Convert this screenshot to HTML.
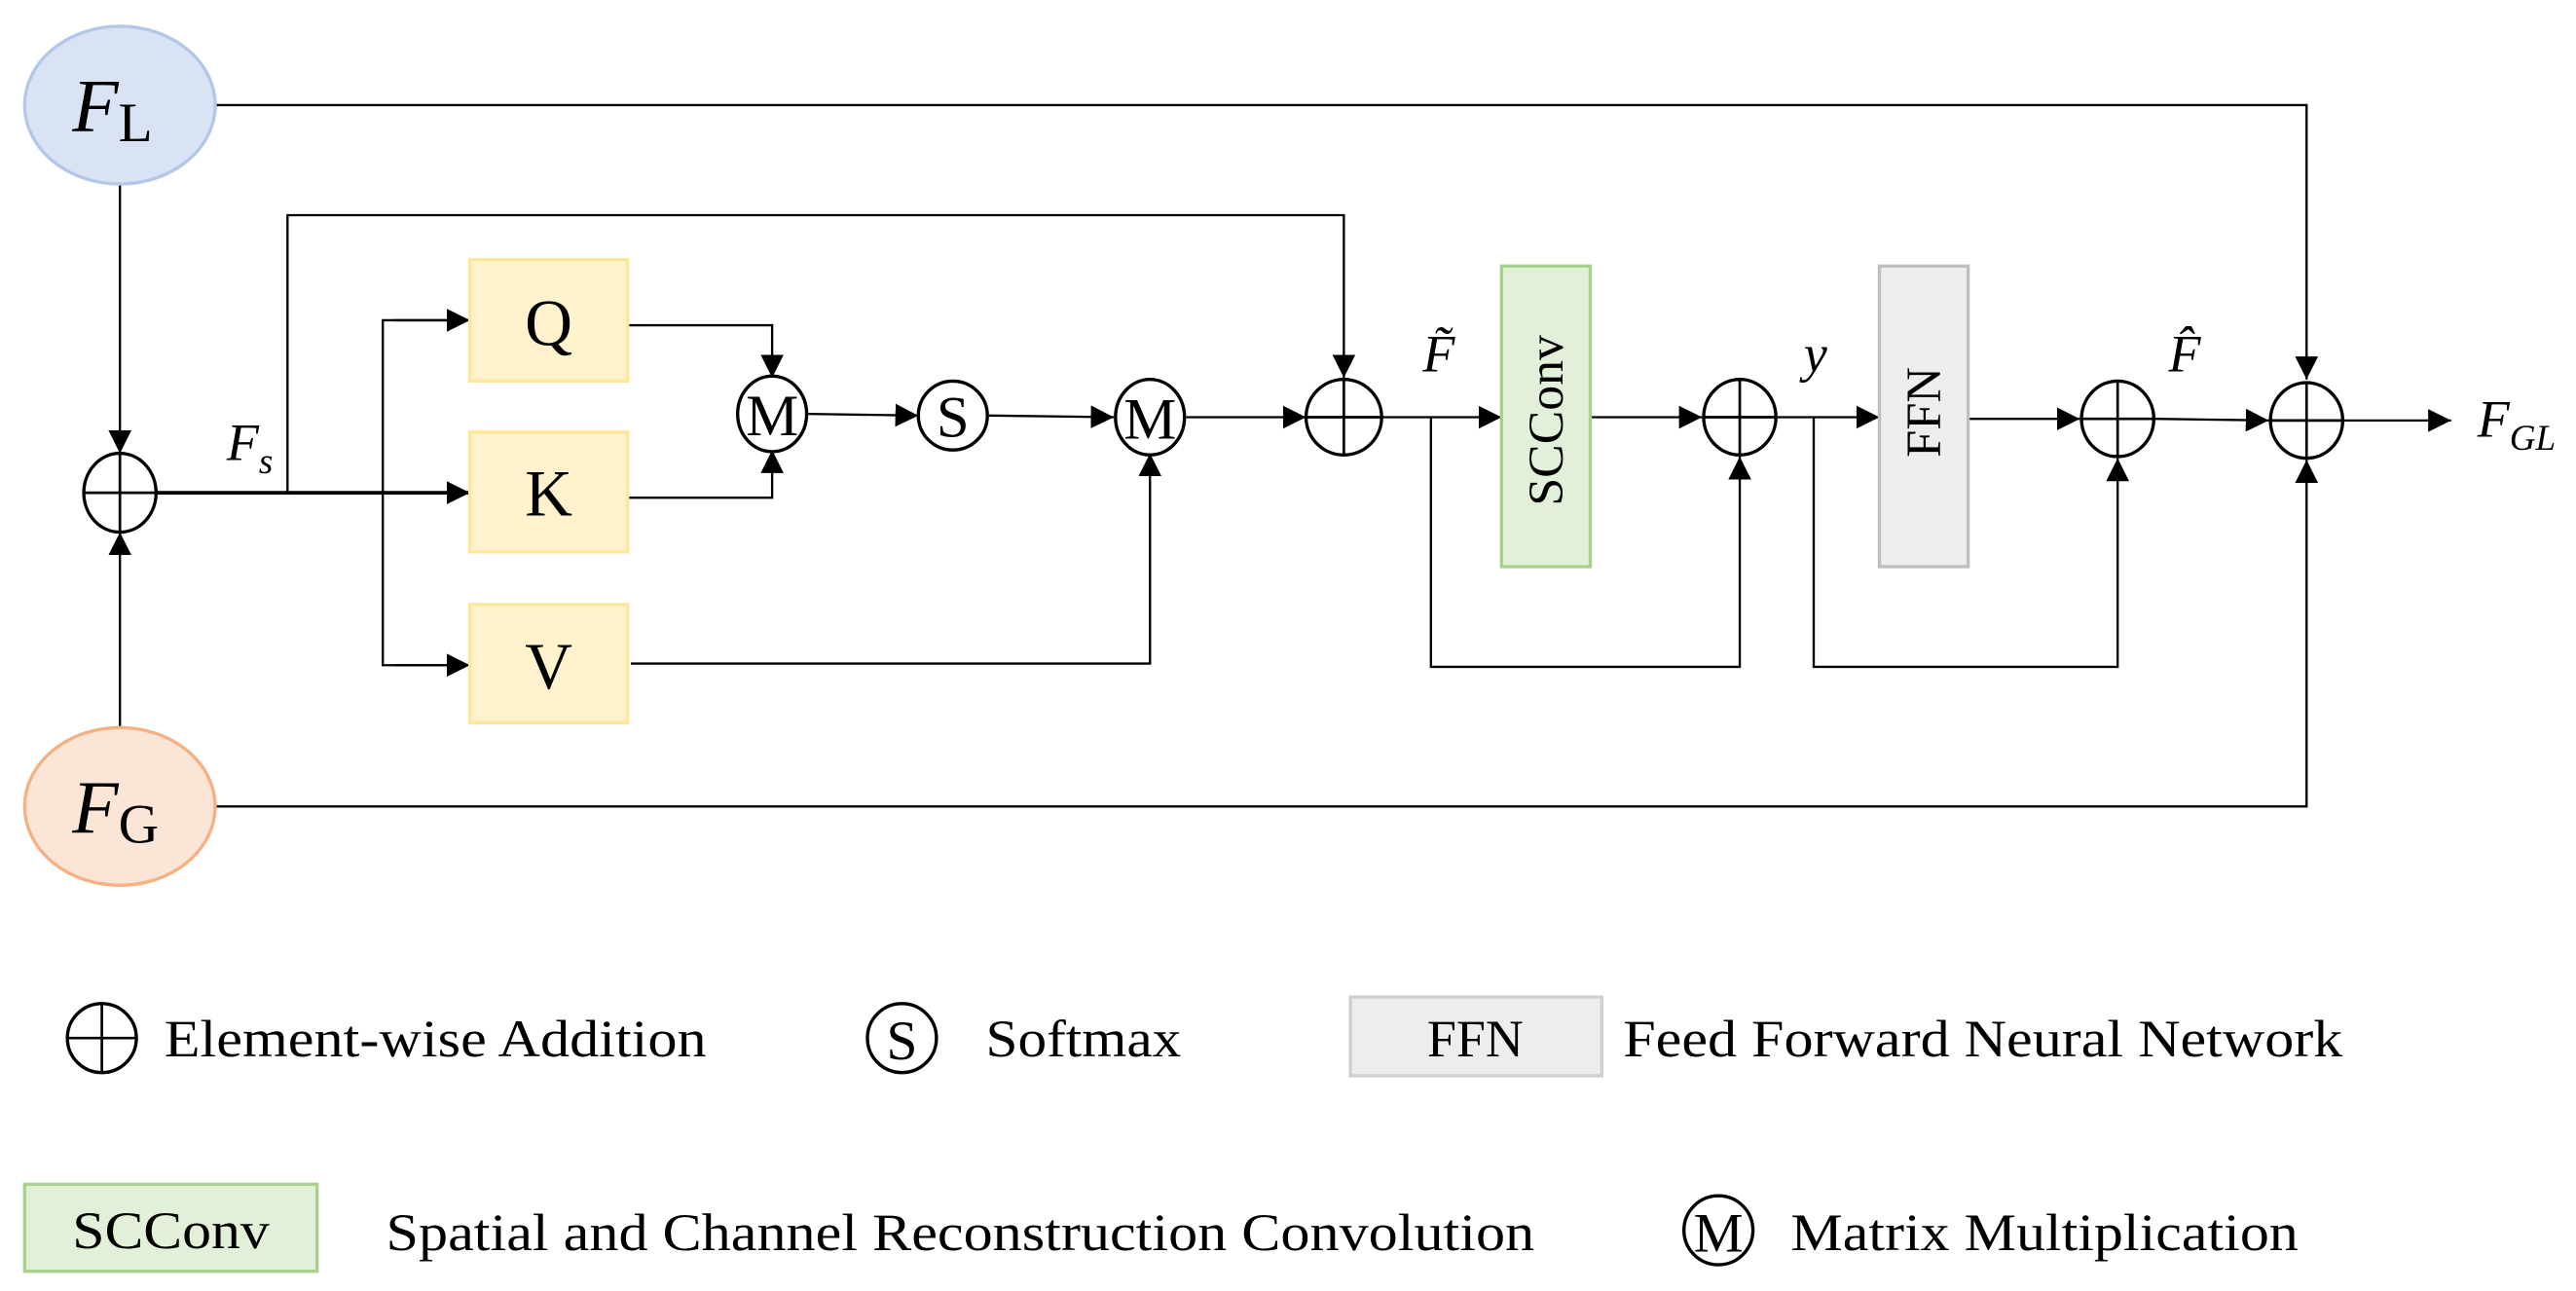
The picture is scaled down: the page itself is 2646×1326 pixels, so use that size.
<!DOCTYPE html>
<html><head><style>html,body{margin:0;padding:0;background:#fff}svg{display:block}</style></head><body>
<svg width="2646" height="1326" viewBox="0 0 1568 786" preserveAspectRatio="none" xmlns="http://www.w3.org/2000/svg" font-family="Liberation Serif, serif">
<defs>
<marker id="b" viewBox="0 0 10 10" markerWidth="14" markerHeight="14" refX="10" refY="5" orient="auto" markerUnits="userSpaceOnUse"><path d="M0,0 L10,5 L0,10 z" fill="#000"/></marker></defs>
<g stroke="#000" stroke-width="1.4" fill="none">
<polyline points="131,64 1404,64 1404,231" marker-end="url(#b)"/>
<polyline points="131,491 1404,491 1404,280" marker-end="url(#b)"/>
<line x1="73" y1="112" x2="73" y2="276" marker-end="url(#b)"/>
<line x1="73" y1="443" x2="73" y2="324" marker-end="url(#b)"/>
<line x1="95" y1="300" x2="286" y2="300" stroke-width="2.2" marker-end="url(#b)"/>
<polyline points="175,300 175,131 818,131 818,230" marker-end="url(#b)"/>
<polyline points="286,195 233,195 233,405 286,405"/>
<line x1="240" y1="195" x2="286" y2="195" marker-end="url(#b)"/>
<line x1="240" y1="405" x2="286" y2="405" marker-end="url(#b)"/>
<polyline points="382,198 470,198 470,230" marker-end="url(#b)"/>
<polyline points="382,303 470,303 470,274" marker-end="url(#b)"/>
<polyline points="384,404 700,404 700,276" marker-end="url(#b)"/>
<line x1="492" y1="252" x2="559" y2="253" marker-end="url(#b)"/>
<line x1="601" y1="253" x2="678" y2="254" marker-end="url(#b)"/>
<line x1="722" y1="254" x2="795" y2="254" marker-end="url(#b)"/>
<line x1="841" y1="254" x2="914" y2="254" marker-end="url(#b)"/>
<line x1="968" y1="254" x2="1036" y2="254" marker-end="url(#b)"/>
<line x1="1082" y1="254" x2="1144" y2="254" marker-end="url(#b)"/>
<line x1="1198" y1="255" x2="1266" y2="255" marker-end="url(#b)"/>
<line x1="1312" y1="255" x2="1381" y2="256" marker-end="url(#b)"/>
<line x1="1427" y1="256" x2="1492" y2="256" marker-end="url(#b)"/>
<polyline points="871,254 871,406 1059,406 1059,278" marker-end="url(#b)"/>
<polyline points="1104,254 1104,406 1289,406 1289,279" marker-end="url(#b)"/>
</g>
<ellipse cx="73" cy="64" rx="58" ry="48" fill="#dae3f3" stroke="#b4c7e7" stroke-width="2"/>
<ellipse cx="73" cy="491" rx="58" ry="48" fill="#fbe5d6" stroke="#f4b183" stroke-width="2"/>
<text x="44" y="80" font-size="46" font-style="italic">F<tspan font-style="normal" font-size="34" dy="6">L</tspan></text>
<text x="44" y="507" font-size="46" font-style="italic">F<tspan font-style="normal" font-size="34" dy="6">G</tspan></text>
<g fill="#fff2cc" stroke="#ffe699" stroke-width="2">
<rect x="286" y="158" width="96" height="74"/><rect x="286" y="263" width="96" height="73"/><rect x="286" y="368" width="96" height="72"/></g>
<g font-size="40" text-anchor="middle"><text x="334" y="210">Q</text><text x="334" y="314">K</text><text x="334" y="419">V</text></g>
<rect x="914" y="162" width="54" height="183" fill="#e2f0d9" stroke="#a9d18e" stroke-width="2"/>
<rect x="1144" y="162" width="54" height="183" fill="#ededed" stroke="#bfbfbf" stroke-width="2"/>
<text font-size="30" text-anchor="middle" textLength="104" lengthAdjust="spacingAndGlyphs" transform="translate(951,256) rotate(-90)">SCConv</text>
<text font-size="30" text-anchor="middle" transform="translate(1181,251) rotate(-90)">FFN</text>
<g fill="#fff" stroke="#000" stroke-width="2">
<ellipse cx="73" cy="300" rx="22" ry="24"/><ellipse cx="818" cy="254" rx="23" ry="23"/><ellipse cx="1059" cy="254" rx="22" ry="23"/><ellipse cx="1289" cy="255" rx="22" ry="23"/><ellipse cx="1404" cy="256" rx="22" ry="23"/>
<ellipse cx="470" cy="252" rx="21" ry="23"/><ellipse cx="580" cy="253" rx="21" ry="21"/><ellipse cx="700" cy="254" rx="21" ry="23"/>
<circle cx="62" cy="632" r="21"/><circle cx="549" cy="632" r="21"/><circle cx="1046" cy="749" r="21"/></g>
<g stroke="#000" stroke-width="1.6">
<path d="M51,300h44M73,276v48"/><path d="M795,254h46M818,231v46"/><path d="M1037,254h44M1059,231v46"/><path d="M1267,255h44M1289,232v46"/><path d="M1382,256h44M1404,233v46"/><path d="M41,632h42M62,611v42"/></g>
<g font-size="36" text-anchor="middle"><text x="470" y="265">M</text><text x="580" y="266">S</text><text x="700" y="267">M</text><text x="549" y="645" font-size="34">S</text><text x="1046" y="762" font-size="34">M</text></g>
<g font-style="italic" font-size="32">
<text x="138" y="280">F<tspan font-size="22" dy="8">s</tspan></text>
<text x="866" y="226">F̃</text>
<text x="1098" y="226">y</text>
<text x="1320" y="226">F̂</text>
<text x="1508" y="266">F<tspan font-size="22" dy="8">GL</tspan></text></g>
<rect x="822" y="607" width="153" height="48" fill="#ededed" stroke="#d0d0d0" stroke-width="2"/>
<rect x="15" y="721" width="178" height="53" fill="#e2f0d9" stroke="#a9d18e" stroke-width="2"/>
<g font-size="32">
<text x="100" y="643" textLength="330" lengthAdjust="spacingAndGlyphs">Element-wise Addition</text>
<text x="600" y="643" textLength="119" lengthAdjust="spacingAndGlyphs">Softmax</text>
<text x="898" y="643" text-anchor="middle">FFN</text>
<text x="988" y="643" textLength="438" lengthAdjust="spacingAndGlyphs">Feed Forward Neural Network</text>
<text x="104" y="760" text-anchor="middle" textLength="120" lengthAdjust="spacingAndGlyphs">SCConv</text>
<text x="235" y="761" textLength="699" lengthAdjust="spacingAndGlyphs">Spatial and Channel Reconstruction Convolution</text>
<text x="1090" y="761" textLength="309" lengthAdjust="spacingAndGlyphs">Matrix Multiplication</text></g>
</svg>
</body></html>
